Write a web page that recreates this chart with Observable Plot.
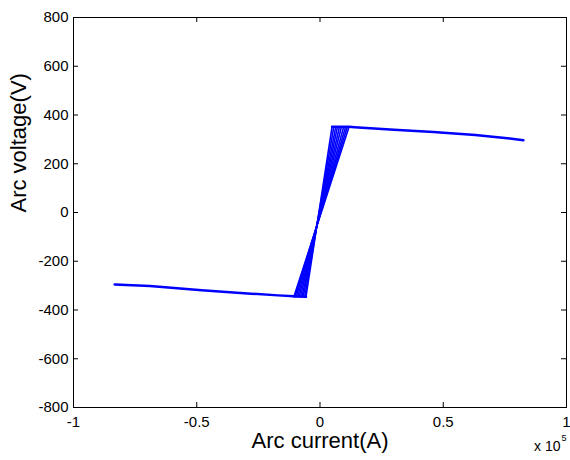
<!DOCTYPE html>
<html><head><meta charset="utf-8">
<script src="https://cdn.jsdelivr.net/npm/d3@7"></script>
<script src="https://cdn.jsdelivr.net/npm/@observablehq/plot@0.6"></script>
<style>body{margin:0;background:#fff}</style>
</head><body><div id="chart"></div>
<script>
// Data (current in A, voltage in V)
const topBranchX = [4900, 11800, 14000, 30000, 46000, 63000, 76000, 82500];
const topBranchY = [352, 352, 350, 339, 330, 318, 305, 296];
const bottomBranchX = [-83300, -69000, -48000, -28000, -17000, -10600, -5700];
const bottomBranchY = [-295, -302, -319, -333, -340, -344, -346];
const steepBottomX = [-5700, -6200, -6800, -7300, -7900, -8500, -9100, -9700, -10200, -10600];
const steepTopX = [4900, 5600, 6400, 7100, 7900, 8700, 9600, 10400, 11100, 11800];
const steepBottomY = -346;
const steepTopY = 352;
const xTicks = [-100000, -50000, 0, 50000, 100000];
const yTicks = [-800, -600, -400, -200, 0, 200, 400, 600, 800];

const topRows = topBranchX.map((x, i) => ({x, y: topBranchY[i]}));
const bottomRows = bottomBranchX.map((x, i) => ({x, y: bottomBranchY[i]}));
const steepRows = steepBottomX.flatMap((x, i) => [
  {id: i, x, y: steepBottomY},
  {id: i, x: steepTopX[i], y: steepTopY}
]);

const W = 570, H = 460, mL = 73, mR = 4, mT = 17, mB = 53;
const innerH = H - mT - mB, innerW = W - mL - mR, tk = 5;
const blue = "#0000ff";

const chart = Plot.plot({
  width: W, height: H,
  marginLeft: mL, marginRight: mR, marginTop: mT, marginBottom: mB,
  style: {fontFamily: "'Liberation Sans', Arial, sans-serif", fontSize: "15px", background: "white", color: "black"},
  x: {domain: [-100000, 100000], ticks: xTicks, tickSize: 0, tickPadding: 9, tickFormat: d => String(d / 1e5), label: null},
  y: {domain: [-800, 800], ticks: yTicks, tickSize: 0, tickPadding: 5, tickFormat: d => String(d), label: null},
  marks: [
    Plot.line(topRows, {x: "x", y: "y", stroke: blue, strokeWidth: 2.5}),
    Plot.line(bottomRows, {x: "x", y: "y", stroke: blue, strokeWidth: 2.5}),
    Plot.line(steepRows, {x: "x", y: "y", z: "id", stroke: blue, strokeWidth: 1.6}),
    Plot.ruleX(xTicks, {x: d => d, insetTop: innerH - tk, stroke: "black"}),
    Plot.ruleX(xTicks, {x: d => d, insetBottom: innerH - tk, stroke: "black"}),
    Plot.ruleY(yTicks, {y: d => d, insetRight: innerW - tk, stroke: "black"}),
    Plot.ruleY(yTicks, {y: d => d, insetLeft: innerW - tk, stroke: "black"}),
    Plot.frame({stroke: "black"}),
    Plot.text(["Arc current(A)"], {frameAnchor: "bottom", dy: 40, fontSize: 22, fill: "black"}),
    Plot.text(["Arc voltage(V)"], {frameAnchor: "left", dx: -55, rotate: -90, fontSize: 22, fill: "black"}),
    Plot.text(["x 10"], {frameAnchor: "bottom-right", dy: 43, dx: -6, textAnchor: "end", fontSize: 14, fill: "black"}),
    Plot.text(["5"], {frameAnchor: "bottom-right", dy: 33, dx: -5, textAnchor: "start", fontSize: 9, fill: "black"})
  ]
});
document.getElementById("chart").append(chart);
</script>
</body></html>
